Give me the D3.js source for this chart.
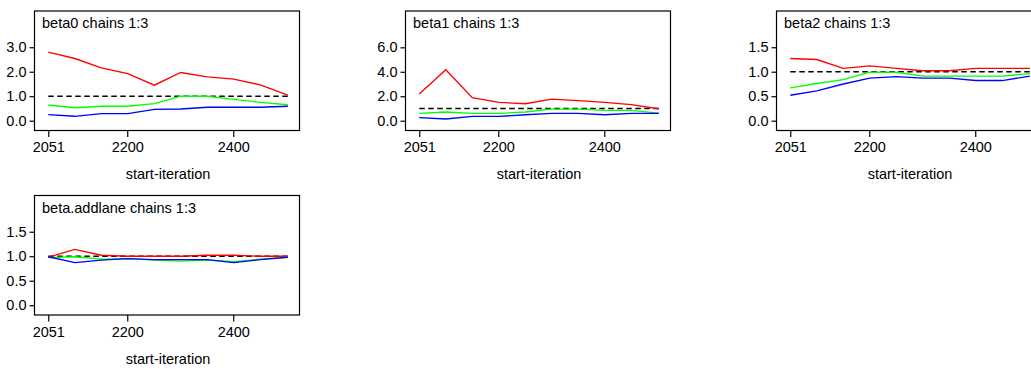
<!DOCTYPE html>
<html>
<head>
<meta charset="utf-8">
<script src="https://cdn.jsdelivr.net/npm/d3@7"></script>
<style>
  body { margin: 0; background: #fff; }
  text { font-family: "Liberation Sans", Arial, sans-serif; fill: #000; }
</style>
</head>
<body>
<figure id="chart" style="margin:0"></figure>
<script>
// start iterations (x) shared by every panel
const iterations = [2051, 2101, 2151, 2201, 2251, 2301, 2351, 2401, 2451, 2503];
const xTicks = [2051, 2200, 2400];

const titles = ["beta0 chains 1:3", "beta1 chains 1:3", "beta2 chains 1:3", "beta.addlane chains 1:3"];

const beta0Red   = [2.80, 2.54, 2.16, 1.92, 1.45, 1.97, 1.79, 1.70, 1.46, 1.04];
const beta0Green = [0.64, 0.53, 0.59, 0.59, 0.70, 1.00, 1.00, 0.87, 0.75, 0.65];
const beta0Blue  = [0.25, 0.18, 0.29, 0.29, 0.46, 0.48, 0.55, 0.55, 0.55, 0.59];

const beta1Red   = [2.18, 4.17, 1.88, 1.50, 1.39, 1.77, 1.64, 1.50, 1.31, 0.98];
const beta1Green = [0.60, 0.71, 0.60, 0.60, 0.71, 0.95, 0.95, 0.84, 0.84, 0.62];
const beta1Blue  = [0.25, 0.14, 0.35, 0.35, 0.49, 0.60, 0.60, 0.49, 0.60, 0.60];

const beta2Red   = [1.27, 1.25, 1.07, 1.12, 1.07, 1.02, 1.02, 1.07, 1.07, 1.07];
const beta2Green = [0.67, 0.76, 0.84, 0.99, 0.99, 0.91, 0.91, 0.91, 0.91, 0.96];
const beta2Blue  = [0.52, 0.61, 0.75, 0.87, 0.90, 0.87, 0.87, 0.82, 0.82, 0.91];

const addlaneRed   = [0.98, 1.14, 1.02, 1.00, 1.00, 1.00, 1.02, 1.02, 1.00, 1.00];
const addlaneGreen = [0.97, 0.99, 0.94, 0.95, 0.92, 0.90, 0.92, 0.89, 0.94, 0.98];
const addlaneBlue  = [0.99, 0.87, 0.92, 0.95, 0.93, 0.93, 0.93, 0.87, 0.93, 0.98];

const beta0Ticks = [0, 1, 2, 3];
const beta1Ticks = [0, 2, 4, 6];
const beta2Ticks = [0, 0.5, 1, 1.5];
const addlaneTicks = [0, 0.5, 1, 1.5];

const refLevel = 1;

const panels = [
  { title: titles[0], series: [beta0Red, beta0Green, beta0Blue], ticks: beta0Ticks, ylim: [-0.40, 4.48], col: 0, row: 0 },
  { title: titles[1], series: [beta1Red, beta1Green, beta1Blue], ticks: beta1Ticks, ylim: [-0.80, 8.97], col: 1, row: 0 },
  { title: titles[2], series: [beta2Red, beta2Green, beta2Blue], ticks: beta2Ticks, ylim: [-0.20, 2.24], col: 2, row: 0 },
  { title: titles[3], series: [addlaneRed, addlaneGreen, addlaneBlue], ticks: addlaneTicks, ylim: [-0.20, 2.24], col: 0, row: 1 }
];
const colors = ["#ff0000", "#00ff00", "#0000ff"];

const width = 1031, height = 369;
const cellW = 371, cellH = 184.5;
const box = { left: 34.5, right: 299.5, top: 11, bottom: 130.5 };
const fontSize = "14.5px";

const svg = d3.select("figure#chart")
  .append("svg")
  .attr("width", width)
  .attr("height", height);

panels.forEach(p => {
  const g = svg.append("g")
    .attr("transform", "translate(" + (p.col * cellW) + "," + (p.row * cellH) + ")");

  const x = d3.scaleLinear().domain([2025, 2525]).range([box.left, box.right]);
  const y = d3.scaleLinear().domain(p.ylim).range([box.bottom, box.top]);

  // reference line at 1
  g.append("line")
    .attr("x1", x(iterations[0]))
    .attr("x2", x(iterations[iterations.length - 1]))
    .attr("y1", y(refLevel))
    .attr("y2", y(refLevel))
    .attr("stroke", "#000")
    .attr("stroke-width", 1.4)
    .attr("stroke-dasharray", "5.5,3.5");

  const line = d3.line()
    .x((d, i) => x(iterations[i]))
    .y(d => y(d));

  p.series.forEach((s, k) => {
    g.append("path")
      .datum(s)
      .attr("d", line)
      .attr("fill", "none")
      .attr("stroke", colors[k])
      .attr("stroke-width", 1.35);
  });

  // frame
  g.append("rect")
    .attr("x", box.left)
    .attr("y", box.top)
    .attr("width", box.right - box.left)
    .attr("height", box.bottom - box.top)
    .attr("fill", "none")
    .attr("stroke", "#000")
    .attr("stroke-width", 1.2);

  // y axis
  const yAxis = g.append("g")
    .attr("transform", "translate(" + box.left + ",0)")
    .call(d3.axisLeft(y).tickValues(p.ticks).tickFormat(d3.format(".1f")).tickSize(5).tickPadding(3));
  yAxis.select(".domain").remove();
  yAxis.selectAll("line").attr("stroke", "#000").attr("stroke-width", 1.2);
  yAxis.selectAll("text").style("font-size", fontSize).style("font-family", "Liberation Sans, Arial, sans-serif");

  // x axis
  const xAxis = g.append("g")
    .attr("transform", "translate(0," + box.bottom + ")")
    .call(d3.axisBottom(x).tickValues(xTicks).tickFormat(d3.format("d")).tickSize(6.5).tickPadding(5));
  xAxis.select(".domain").remove();
  xAxis.selectAll("line").attr("stroke", "#000").attr("stroke-width", 1.2);
  xAxis.selectAll("text").style("font-size", fontSize).style("font-family", "Liberation Sans, Arial, sans-serif");

  g.append("text")
    .attr("x", (box.left + box.right) / 2 + 1)
    .attr("y", 179)
    .attr("text-anchor", "middle")
    .style("font-size", fontSize)
    .text("start-iteration");

  g.append("text")
    .attr("x", 42)
    .attr("y", 28)
    .style("font-size", fontSize)
    .text(p.title);
});
</script>
</body>
</html>
